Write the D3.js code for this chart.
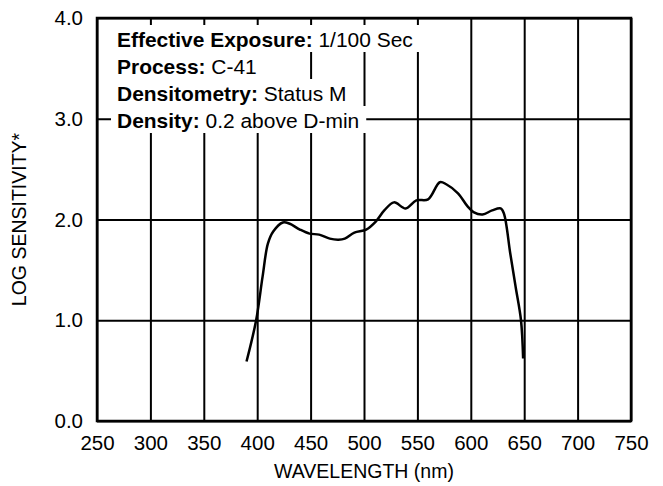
<!DOCTYPE html>
<html>
<head>
<meta charset="utf-8">
<script src="https://cdn.jsdelivr.net/npm/d3@7"></script>
<style>
  body { margin: 0; background: #fff; }
  svg { display: block; font-family: "Liberation Sans", Arial, sans-serif; }
</style>
</head>
<body>
<div id="chart"></div>
<script>
// Courbe de sensibilité spectrale
let wavelengths = [390, 399, 405, 410, 415, 424, 430, 440, 449, 458, 468, 476, 482, 491, 502, 511, 519, 528, 539, 549, 560, 571, 577, 588, 597, 603, 611, 620, 628, 631, 637, 642, 647, 649];
let logSens = [0.59, 1.0, 1.43, 1.76, 1.88, 1.97, 1.96, 1.90, 1.86, 1.85, 1.81, 1.80, 1.81, 1.87, 1.90, 1.98, 2.09, 2.17, 2.11, 2.19, 2.20, 2.37, 2.35, 2.26, 2.13, 2.07, 2.05, 2.09, 2.11, 2.06, 1.66, 1.33, 1.0, 0.62];

let xTicks = [250, 300, 350, 400, 450, 500, 550, 600, 650, 700, 750];
let yTicks = [0, 1, 2, 3, 4];

let legendLabels = ["Effective Exposure:", "Process:", "Densitometry:", "Density:"];
let legendValues = ["1/100 Sec", "C-41", "Status M", "0.2 above D-min"];

let W = 663, H = 486;
let margin = {top: 18, left: 97, right: 32, bottom: 65};
let width = W - margin.left - margin.right;
let height = H - margin.top - margin.bottom;
let tickFont = 20.5;
let legendFont = 19.5;

let svg = d3.select("#chart")
  .append("svg")
  .attr("width", W)
  .attr("height", H);

let g = svg.append("g")
  .attr("transform", "translate(" + margin.left + "," + margin.top + ")");

let x = d3.scaleLinear().domain([250, 750]).range([0, width]);
let y = d3.scaleLinear().domain([0, 4]).range([height, 0]);

// Grille verticale + libellés du bas
let xAxis = g.append("g")
  .attr("transform", "translate(0," + height + ")")
  .call(d3.axisBottom(x)
    .tickValues(xTicks)
    .tickSize(-height)
    .tickPadding(14)
    .tickFormat(function(d) { return d; }));

// Grille horizontale + libellés de gauche
let yAxis = g.append("g")
  .call(d3.axisLeft(y)
    .tickValues(yTicks)
    .tickSize(-width)
    .tickPadding(14)
    .tickFormat(d3.format(".1f")));

[xAxis, yAxis].forEach(function(a) {
  a.select(".domain").remove();
  a.selectAll(".tick line").attr("stroke", "#000").attr("stroke-width", 2);
  a.selectAll(".tick text")
    .attr("fill", "#000")
    .attr("font-size", tickFont)
    .attr("font-family", "Liberation Sans, Arial, sans-serif");
});

// Légende : un fond blanc derrière chaque ligne (texte un peu élargi)
let stretch = 1.075;
let x0 = 117 - margin.left;
let legend = g.append("g");
let rowBase = [47, 74, 101, 128];
legendLabels.forEach(function(lab, i) {
  let row = legend.append("g");
  let rect = row.append("rect").attr("fill", "#fff");
  let t = row.append("text")
    .attr("x", 0)
    .attr("y", rowBase[i] - margin.top)
    .attr("font-size", legendFont)
    .attr("fill", "#000")
    .attr("transform", "translate(" + x0 + ",0) scale(" + stretch + ",1)");
  t.append("tspan").attr("font-weight", "bold").text(lab);
  t.append("tspan").text(" " + legendValues[i]);
  let w = t.node().getBBox().width * stretch;
  rect.attr("x", x0 - 6)
    .attr("y", rowBase[i] - margin.top - 22)
    .attr("width", w + 13)
    .attr("height", 27);
});

// Cadre
g.append("rect")
  .attr("width", width)
  .attr("height", height)
  .attr("fill", "none")
  .attr("stroke", "#000")
  .attr("stroke-width", 2.5);

// Courbe
let line = d3.line()
  .x(function(d, i) { return x(wavelengths[i]); })
  .y(function(d) { return y(d); })
  .curve(d3.curveCatmullRom.alpha(0.5));

g.append("path")
  .datum(logSens)
  .attr("d", line)
  .attr("fill", "none")
  .attr("stroke", "#000")
  .attr("stroke-width", 2.5);

// Titres des axes
svg.append("text")
  .attr("x", margin.left + width / 2)
  .attr("y", 478)
  .attr("text-anchor", "middle")
  .attr("font-size", legendFont)
  .text("WAVELENGTH (nm)");

svg.append("text")
  .attr("transform", "translate(26," + (margin.top + height / 2) + ") rotate(-90)")
  .attr("text-anchor", "middle")
  .attr("font-size", legendFont)
  .text("LOG SENSITIVITY*");
</script>
</body>
</html>
